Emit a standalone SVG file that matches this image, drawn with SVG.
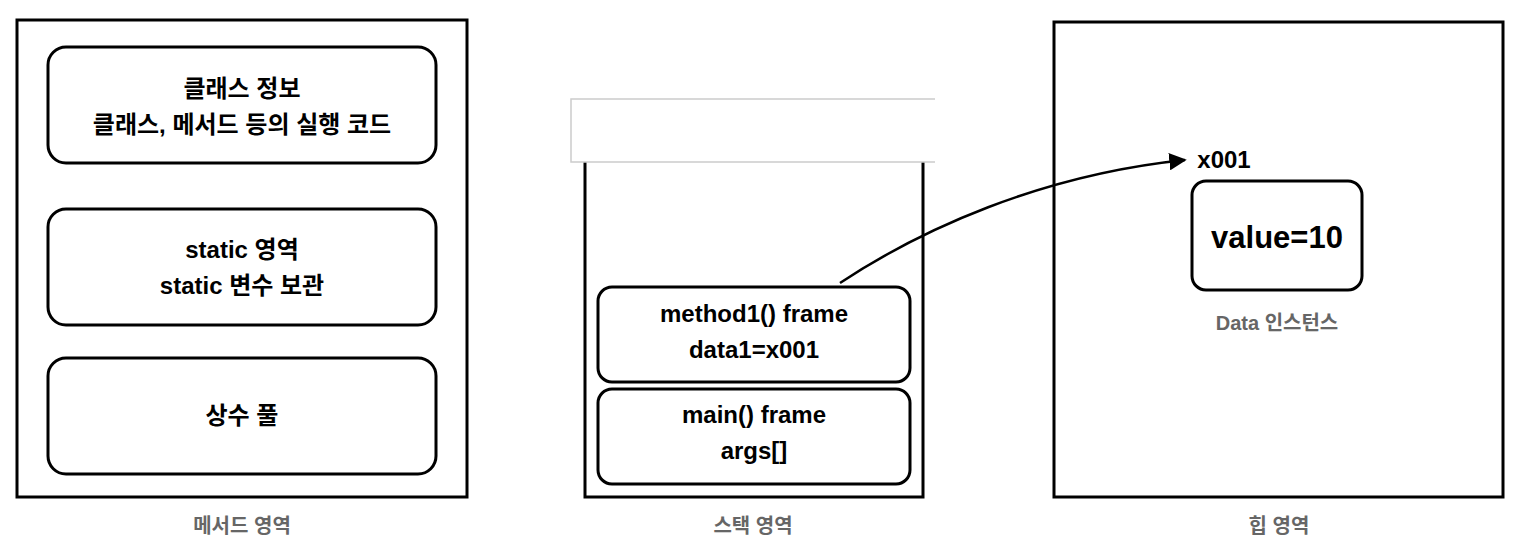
<svg xmlns="http://www.w3.org/2000/svg" width="1520" height="555" viewBox="0 0 1520 555">
<style>
text{font-family:"Liberation Sans","Noto Sans CJK KR",sans-serif;font-weight:bold;text-anchor:middle;fill:#000}
.big{fill:none;stroke:#000;stroke-width:3}
.box{fill:#fff;stroke:#000;stroke-width:3}
.t{font-size:24px}
.cap{font-size:20px;fill:#666}
</style>
<defs><marker id="ah" viewBox="0 0 10 10" refX="9" refY="5" markerWidth="7" markerHeight="7" orient="auto"><path d="M0,0L10,5L0,10z" fill="#000"/></marker></defs>
<rect width="1520" height="555" fill="#fff"/>
<g id="method-area">
<rect class="big" x="17" y="20" width="450" height="477"/>
<text class="cap" x="242" y="533">메서드 영역</text>
</g>
<g id="class-info"><rect class="box" x="48" y="47" width="388" height="116" rx="18"/>
<text class="t" x="242" y="97">클래스 정보</text><text class="t" x="242" y="133">클래스, 메서드 등의 실행 코드</text></g>
<g id="static-area"><rect class="box" x="48" y="209" width="388" height="116" rx="18"/>
<text class="t" x="242" y="258">static 영역</text><text class="t" x="242" y="294">static 변수 보관</text></g>
<g id="const-pool"><rect class="box" x="48" y="358" width="388" height="116" rx="18"/>
<text class="t" x="242" y="424">상수 풀</text></g>
<g id="stack-area">
<path class="big" d="M585,162V497H923V162"/>
<path d="M935,99H571V162H935" fill="#fff" stroke="#ccc" stroke-width="1.5"/>
<text class="cap" x="753" y="533">스택 영역</text>
</g>
<g id="method1-frame"><rect class="box" x="598" y="287" width="312" height="95" rx="14"/>
<text class="t" x="754" y="322">method1() frame</text><text class="t" x="754" y="358">data1=x001</text></g>
<g id="main-frame"><rect class="box" x="598" y="389" width="312" height="95" rx="14"/>
<text class="t" x="754" y="423">main() frame</text><text class="t" x="754" y="459">args[]</text></g>
<g id="heap-area">
<rect class="big" x="1054" y="22" width="449" height="475"/>
<text class="cap" x="1279" y="533">힙 영역</text>
</g>
<g id="data-instance">
<rect class="box" x="1192" y="181" width="170" height="109" rx="14"/>
<text x="1277" y="248" style="font-size:31px">value=10</text>
<text class="cap" x="1277" y="330">Data 인스턴스</text>
<text class="t" x="1224" y="168">x001</text>
</g>
<g id="connectors">
<path d="M840,283C920,230 1040,175 1185,160" fill="none" stroke="#000" stroke-width="2.5" marker-end="url(#ah)"/>
</g>
</svg>
